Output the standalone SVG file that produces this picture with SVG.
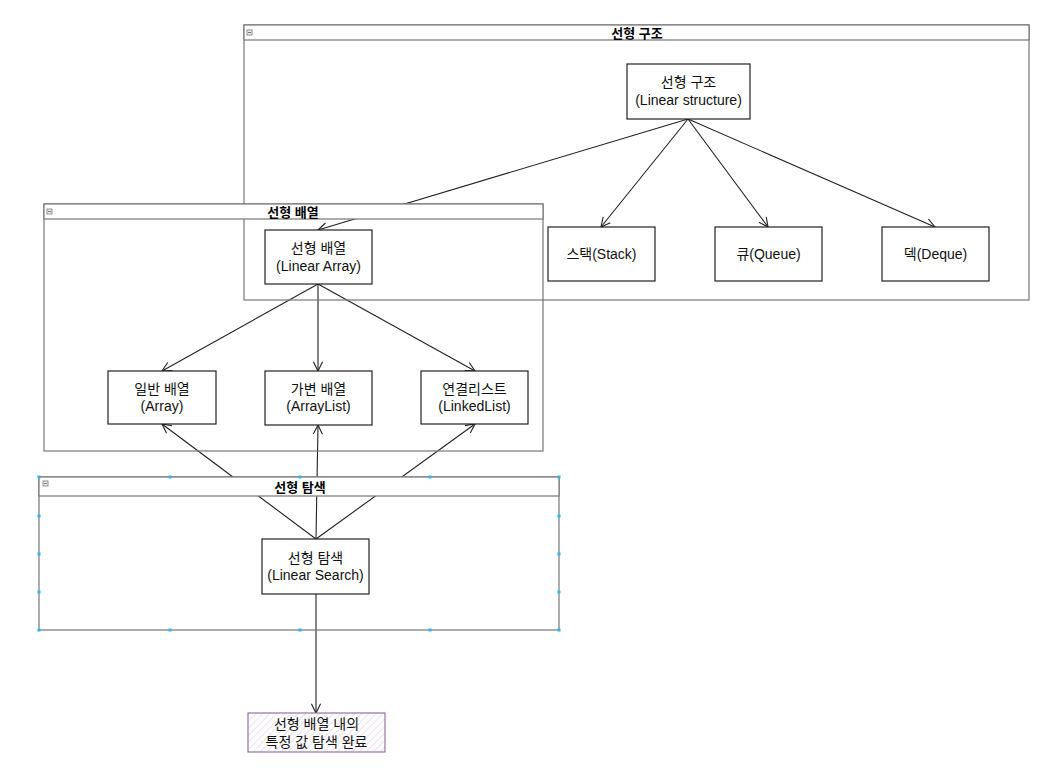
<svg xmlns="http://www.w3.org/2000/svg" width="1064" height="779" viewBox="0 0 1064 779">
<style>
.cbody{fill:none;stroke:#777;stroke-width:1.2}
.chead{fill:#fff;stroke:#777;stroke-width:1.2}
.ctitle{font-family:"Liberation Sans","Noto Sans CJK KR",sans-serif;font-size:13px;font-weight:bold;fill:#000;text-anchor:middle;dominant-baseline:central}
.icon{fill:#eee;stroke:#777;stroke-width:0.8}
.node{fill:#fff;stroke:#222;stroke-width:1.2}
.t{font-family:"Liberation Sans","Noto Sans CJK KR",sans-serif;font-size:14px;fill:#111;text-anchor:middle;dominant-baseline:central}
.edge{fill:none;stroke:#222;stroke-width:1.1}
.h{fill:#29b6f2}
</style>
<defs>
<marker id="arr" viewBox="0 0 12 12" refX="11" refY="6" markerWidth="11" markerHeight="11" markerUnits="userSpaceOnUse" orient="auto">
<path d="M1,1 L11,6 L1,11" fill="none" stroke="#222" stroke-width="1.2"/>
</marker>
<pattern id="hatch" width="5" height="5" patternUnits="userSpaceOnUse" patternTransform="rotate(45)">
<rect width="5" height="5" fill="#fff"/>
<line x1="0" y1="0" x2="0" y2="5" stroke="#e4d6ea" stroke-width="1.5"/>
</pattern>
</defs>
<rect width="1064" height="779" fill="#fff"/>

<g id="connectors">
<path class="edge" d="M688,119 L318,230" marker-end="url(#arr)"/>
<path class="edge" d="M688,119 L601,227" marker-end="url(#arr)"/>
<path class="edge" d="M688,119 L768,227" marker-end="url(#arr)"/>
<path class="edge" d="M688,119 L935,227" marker-end="url(#arr)"/>
<path class="edge" d="M318,284 L162,371" marker-end="url(#arr)"/>
<path class="edge" d="M318,284 L318,371" marker-end="url(#arr)"/>
<path class="edge" d="M318,284 L475,371" marker-end="url(#arr)"/>
<path class="edge" d="M316,539 L162,424" marker-end="url(#arr)"/>
<path class="edge" d="M316,539 L318,425" marker-end="url(#arr)"/>
<path class="edge" d="M316,539 L475,424" marker-end="url(#arr)"/>
<path class="edge" d="M316,594 L316,713" marker-end="url(#arr)"/>
</g>

<g id="container-linear-structure">
<rect class="cbody" x="244" y="25" width="785" height="275"/>
<rect class="chead" x="244" y="25" width="785" height="15"/>
<rect class="icon" x="247" y="30" width="5" height="5"/>
<line x1="248" y1="32.5" x2="251" y2="32.5" stroke="#555" stroke-width="0.8"/>
<text class="ctitle" x="637" y="33">선형 구조</text>
</g>

<g id="container-linear-array">
<rect class="cbody" x="44" y="204" width="499" height="247"/>
<rect class="chead" x="44" y="204" width="499" height="15"/>
<rect class="icon" x="47" y="209" width="5" height="5"/>
<line x1="48" y1="211.5" x2="51" y2="211.5" stroke="#555" stroke-width="0.8"/>
<text class="ctitle" x="293" y="212">선형 배열</text>
</g>

<g id="container-linear-search">
<rect class="cbody" x="39" y="477" width="520" height="153"/>
<rect class="chead" x="39" y="477" width="520" height="19"/>
<rect class="icon" x="43" y="481" width="5" height="5"/>
<line x1="44" y1="483.5" x2="47" y2="483.5" stroke="#555" stroke-width="0.8"/>
<text class="ctitle" x="300" y="487">선형 탐색</text>
<rect class="h" x="37.5" y="475.5" width="3" height="3"/>
<rect class="h" x="168.5" y="475.5" width="3" height="3"/>
<rect class="h" x="298.5" y="475.5" width="3" height="3"/>
<rect class="h" x="428.5" y="475.5" width="3" height="3"/>
<rect class="h" x="557.5" y="475.5" width="3" height="3"/>
<rect class="h" x="37.5" y="514.5" width="3" height="3"/>
<rect class="h" x="37.5" y="552.5" width="3" height="3"/>
<rect class="h" x="37.5" y="590.5" width="3" height="3"/>
<rect class="h" x="557.5" y="514.5" width="3" height="3"/>
<rect class="h" x="557.5" y="552.5" width="3" height="3"/>
<rect class="h" x="557.5" y="590.5" width="3" height="3"/>
<rect class="h" x="37.5" y="628.5" width="3" height="3"/>
<rect class="h" x="168.5" y="628.5" width="3" height="3"/>
<rect class="h" x="298.5" y="628.5" width="3" height="3"/>
<rect class="h" x="428.5" y="628.5" width="3" height="3"/>
<rect class="h" x="557.5" y="628.5" width="3" height="3"/>
</g>

<g id="node-linear-structure">
<rect class="node" x="627" y="64" width="123" height="55"/>
<text class="t" x="688.5" y="82">선형 구조</text>
<text class="t" x="688.5" y="100">(Linear structure)</text>
</g>
<g id="node-stack">
<rect class="node" x="548" y="227" width="107" height="54"/>
<text class="t" x="601.5" y="254">스택(Stack)</text>
</g>
<g id="node-queue">
<rect class="node" x="715" y="227" width="107" height="54"/>
<text class="t" x="768.5" y="254">큐(Queue)</text>
</g>
<g id="node-deque">
<rect class="node" x="882" y="227" width="107" height="54"/>
<text class="t" x="935.5" y="254">덱(Deque)</text>
</g>
<g id="node-linear-array">
<rect class="node" x="265" y="230" width="107" height="54"/>
<text class="t" x="318.5" y="248">선형 배열</text>
<text class="t" x="318.5" y="266">(Linear Array)</text>
</g>
<g id="node-array">
<rect class="node" x="108" y="371" width="108" height="53"/>
<text class="t" x="162" y="389">일반 배열</text>
<text class="t" x="162" y="406">(Array)</text>
</g>
<g id="node-arraylist">
<rect class="node" x="265" y="371" width="107" height="54"/>
<text class="t" x="318.5" y="389">가변 배열</text>
<text class="t" x="318.5" y="406">(ArrayList)</text>
</g>
<g id="node-linkedlist">
<rect class="node" x="421" y="371" width="107" height="53"/>
<text class="t" x="474.5" y="389">연결리스트</text>
<text class="t" x="474.5" y="406">(LinkedList)</text>
</g>
<g id="node-linear-search">
<rect class="node" x="262" y="539" width="107" height="55"/>
<text class="t" x="315.5" y="558">선형 탐색</text>
<text class="t" x="315.5" y="575">(Linear Search)</text>
</g>
<g id="node-result">
<rect x="248" y="713" width="137" height="39" fill="url(#hatch)" stroke="#9673a6" stroke-width="1.2"/>
<text class="t" x="316.5" y="724">선형 배열 내의</text>
<text class="t" x="316.5" y="742">특정 값 탐색 완료</text>
</g>
</svg>
